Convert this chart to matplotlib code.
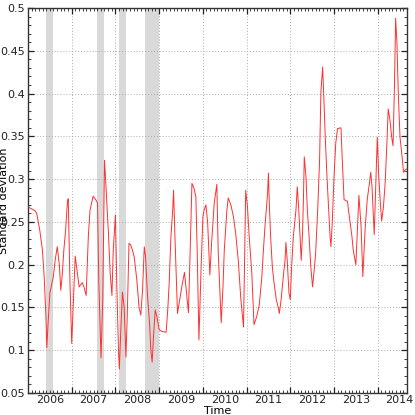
import matplotlib
matplotlib.use("Agg")
import matplotlib.pyplot as plt
from matplotlib.ticker import MultipleLocator, FixedLocator, FixedFormatter
import numpy as np

# ── Data ─────────────────────────────────────────────────────────────────────

# time in decimal years
time = [
    2006.02, 2006.16, 2006.20, 2006.27, 2006.33, 2006.37, 2006.41, 2006.43, 2006.46, 2006.50,
    2006.58, 2006.62, 2006.67, 2006.72, 2006.75, 2006.78, 2006.82, 2006.86, 2006.90, 2006.92,
    2006.96, 2007.00, 2007.04, 2007.08, 2007.11, 2007.17, 2007.24, 2007.28, 2007.33, 2007.38,
    2007.42, 2007.49, 2007.55, 2007.59, 2007.62, 2007.67, 2007.71, 2007.75, 2007.78, 2007.84,
    2007.88, 2007.92, 2007.95, 2008.00, 2008.03, 2008.07, 2008.09, 2008.12, 2008.16, 2008.20,
    2008.24, 2008.27, 2008.31, 2008.35, 2008.39, 2008.43, 2008.49, 2008.54, 2008.58, 2008.62,
    2008.64, 2008.66, 2008.69, 2008.73, 2008.78, 2008.81, 2008.84, 2008.87, 2008.91, 2008.95,
    2009.00, 2009.06, 2009.16, 2009.20, 2009.23, 2009.27, 2009.31, 2009.33, 2009.36, 2009.42,
    2009.48, 2009.53, 2009.58, 2009.62, 2009.67, 2009.71, 2009.75, 2009.80, 2009.84, 2009.87,
    2009.91, 2009.96, 2010.00, 2010.03, 2010.07, 2010.11, 2010.16, 2010.20, 2010.26, 2010.30,
    2010.32, 2010.35, 2010.42, 2010.46, 2010.49, 2010.55, 2010.58, 2010.64, 2010.70, 2010.75,
    2010.81, 2010.87, 2010.93, 2010.98, 2011.02, 2011.06, 2011.12, 2011.17, 2011.23, 2011.29,
    2011.35, 2011.38, 2011.42, 2011.48, 2011.50, 2011.52, 2011.55, 2011.59, 2011.63, 2011.68,
    2011.73, 2011.75, 2011.79, 2011.84, 2011.88, 2011.90, 2011.93, 2011.97, 2012.00, 2012.03,
    2012.07, 2012.13, 2012.16, 2012.19, 2012.22, 2012.25, 2012.28, 2012.30, 2012.32, 2012.36,
    2012.39, 2012.43, 2012.47, 2012.51, 2012.54, 2012.58, 2012.63, 2012.67, 2012.70, 2012.74,
    2012.77, 2012.80, 2012.84, 2012.87, 2012.91, 2012.93, 2012.96, 2013.00, 2013.04, 2013.08,
    2013.16, 2013.19, 2013.23, 2013.31, 2013.33, 2013.37, 2013.41, 2013.44, 2013.50, 2013.57,
    2013.62, 2013.66, 2013.71, 2013.76, 2013.81, 2013.84, 2013.87, 2013.90, 2013.92, 2013.96,
    2013.99, 2014.02, 2014.06, 2014.09, 2014.13, 2014.17, 2014.21, 2014.24, 2014.28, 2014.32,
    2014.35, 2014.38, 2014.40, 2014.41, 2014.44, 2014.47, 2014.51, 2014.55, 2014.59, 2014.63,
    2014.67,
]

std_dev = [
    0.267, 0.263, 0.260, 0.240, 0.217, 0.186, 0.139, 0.103, 0.132, 0.167,
    0.186, 0.205, 0.221, 0.198, 0.170, 0.186, 0.217, 0.240, 0.272, 0.277,
    0.179, 0.108, 0.159, 0.210, 0.198, 0.174, 0.179, 0.174, 0.164, 0.233,
    0.264, 0.280, 0.276, 0.272, 0.179, 0.091, 0.159, 0.322, 0.295, 0.237,
    0.190, 0.164, 0.217, 0.258, 0.179, 0.100, 0.078, 0.120, 0.168, 0.150,
    0.092, 0.139, 0.225, 0.223, 0.217, 0.209, 0.182, 0.150, 0.141, 0.170,
    0.197, 0.221, 0.209, 0.167, 0.132, 0.100, 0.086, 0.115, 0.147, 0.139,
    0.124, 0.122, 0.121, 0.150, 0.179, 0.233, 0.264, 0.287, 0.235, 0.143,
    0.162, 0.178, 0.191, 0.170, 0.144, 0.217, 0.295, 0.289, 0.279, 0.217,
    0.112, 0.197, 0.256, 0.264, 0.270, 0.249, 0.188, 0.225, 0.272, 0.287,
    0.294, 0.217, 0.132, 0.174, 0.217, 0.264, 0.278, 0.270, 0.256, 0.237,
    0.205, 0.159, 0.127, 0.287, 0.268, 0.233, 0.190, 0.130, 0.139, 0.153,
    0.186, 0.213, 0.244, 0.283, 0.307, 0.272, 0.233, 0.197, 0.178, 0.159,
    0.149, 0.143, 0.159, 0.186, 0.205, 0.226, 0.205, 0.167, 0.159, 0.197,
    0.233, 0.264, 0.291, 0.268, 0.237, 0.205, 0.237, 0.275, 0.326, 0.302,
    0.264, 0.233, 0.197, 0.174, 0.190, 0.213, 0.268, 0.322, 0.401, 0.431,
    0.392, 0.349, 0.302, 0.272, 0.233, 0.221, 0.249, 0.302, 0.342, 0.359,
    0.360, 0.322, 0.276, 0.274, 0.264, 0.249, 0.233, 0.217, 0.200, 0.281,
    0.244, 0.186, 0.240, 0.276, 0.295, 0.308, 0.291, 0.256, 0.235, 0.299,
    0.349, 0.307, 0.272, 0.251, 0.267, 0.295, 0.342, 0.382, 0.369, 0.349,
    0.339, 0.401, 0.463, 0.488, 0.459, 0.401, 0.349, 0.330, 0.308, 0.311,
    0.312,
]

# shaded periods (start, end) in decimal years
band_start = [2006.41, 2007.58, 2008.08, 2008.68]
band_end   = [2006.57, 2007.74, 2008.24, 2009.00]

years = [2006, 2007, 2008, 2009, 2010, 2011, 2012, 2013, 2014]

# ── Plot ─────────────────────────────────────────────────────────────────────

plt.rcParams["font.family"] = ["Liberation Sans Narrow", "DejaVu Sans"]
FS = 8

fig = plt.figure(figsize=(4.15, 4.15), dpi=100)
ax = fig.add_axes([28 / 415, 22 / 415, 379 / 415, 385 / 415])

for s, e in zip(band_start, band_end):
    ax.axvspan(s, e, color="#d9d9d9", linewidth=0, zorder=0)

ax.plot(time, std_dev, color="#ff3030", linewidth=0.7, zorder=3)

ax.set_xlim(2006.0, 2014.67)
ax.set_ylim(0.05, 0.5)

# year boundaries: major ticks + grid, labels centred in each year
ax.xaxis.set_major_locator(FixedLocator(years[1:]))
ax.xaxis.set_major_formatter(FixedFormatter([""] * (len(years) - 1)))
ax.xaxis.set_minor_locator(MultipleLocator(1 / 12))
for y in years:
    ax.text(y + 0.5, -0.006, str(y), transform=ax.get_xaxis_transform(),
            ha="center", va="top", fontsize=FS, color="#222222")

ax.yaxis.set_major_locator(MultipleLocator(0.05))
ax.yaxis.set_minor_locator(MultipleLocator(0.01))
ax.yaxis.set_major_formatter(matplotlib.ticker.FuncFormatter(lambda v, _: f"{v:g}"))

ax.tick_params(which="both", direction="in", top=True, right=True, colors="#222222")
ax.tick_params(which="major", length=4, width=0.9, labelsize=FS, pad=2)
ax.tick_params(which="minor", length=2, width=0.6)

ax.grid(which="major", color="#aaaaaa", linestyle=(0, (1, 2)), linewidth=0.7)

for sp in ax.spines.values():
    sp.set_color("#333333")
    sp.set_linewidth(1.0)

ax.set_xlabel("Time", fontsize=FS, labelpad=0)
ax.xaxis.set_label_coords(0.5, -0.034)
ax.set_ylabel("Standard deviation", fontsize=FS, labelpad=0)
ax.yaxis.set_label_coords(-0.049, 0.5)

fig.savefig("out.png", dpi=100)
